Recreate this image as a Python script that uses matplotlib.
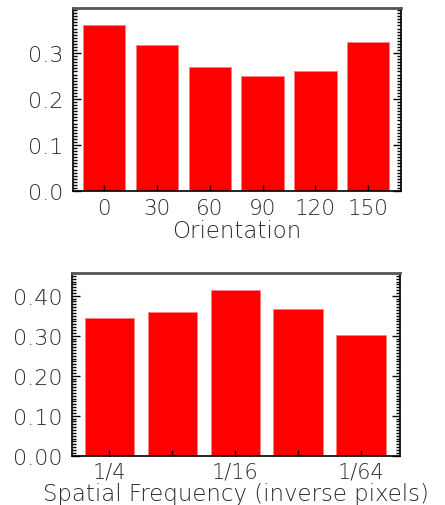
import matplotlib
matplotlib.use("Agg")
import matplotlib.pyplot as plt
from matplotlib.ticker import MultipleLocator, AutoMinorLocator, FormatStrFormatter

orientations = ["0", "30", "60", "90", "120", "150"]
orient_values = [0.362, 0.318, 0.270, 0.251, 0.262, 0.324]

freq_ticklabels = ["1/4", "", "1/16", "", "1/64"]
freq_values = [0.344, 0.359, 0.415, 0.368, 0.301]

plt.rcParams['font.family'] = ['DejaVu Sans']
fig = plt.figure(figsize=(4.45, 5.06), dpi=100)
W, H = 445, 506
TXT = '#2a2a2a'

def style(ax, nminor, fmt, xsize=15, xpad=4.5):
    for s in ['left', 'bottom', 'right']:
        ax.spines[s].set_color('black')
        ax.spines[s].set_linewidth(1.2)
    ax.spines['top'].set_color('#555555')
    ax.spines['top'].set_linewidth(2)
    ax.yaxis.set_minor_locator(AutoMinorLocator(nminor))
    ax.tick_params(axis='y', which='major', direction='in', length=6, width=1,
                   left=True, right=True, labelsize=16, pad=7, labelcolor=TXT)
    ax.tick_params(axis='y', which='minor', direction='in', length=3, width=1,
                   left=True, right=True)
    ax.tick_params(axis='x', which='major', direction='in', length=4, width=1,
                   top=False, labelsize=xsize, pad=xpad, labelcolor=TXT)
    ax.yaxis.set_major_formatter(FormatStrFormatter(fmt))
    for t in ax.get_yticklabels() + ax.get_xticklabels():
        t.set_fontweight('light')

ax1 = fig.add_axes([73 / W, (H - 192) / H, 328 / W, 183 / H])
x1 = range(len(orient_values))
ax1.bar(x1, orient_values, width=0.8, color='#ff0000', edgecolor='#ff8080', linewidth=0.6, zorder=1)
ax1.set_xlim(-0.59, 5.62)
ax1.set_ylim(0, 0.398)
ax1.yaxis.set_major_locator(MultipleLocator(0.1))
ax1.set_xticks(list(x1))
ax1.set_xticklabels(orientations)
style(ax1, 15, '%.1f', xsize=15.5, xpad=5)
ax1.set_xlabel("Orientation", fontsize=16.5, color=TXT, fontweight='light')
ax1.xaxis.label.set_va('baseline')
ax1.xaxis.set_label_coords(0.5, -(238.5 - 192) / 183)

ax2 = fig.add_axes([72 / W, (H - 456.7) / H, 328 / W, 182.7 / H])
x2 = range(len(freq_values))
ax2.bar(x2, freq_values, width=0.78, color='#ff0000', edgecolor='#ff8080', linewidth=0.6, zorder=1)
ax2.set_xlim(-0.59, 4.62)
ax2.set_ylim(0, 0.457)
ax2.yaxis.set_major_locator(MultipleLocator(0.1))
ax2.set_xticks(list(x2))
ax2.set_xticklabels(freq_ticklabels)
style(ax2, 14, '%.2f', xsize=15, xpad=4)
ax2.set_xlabel("Spatial Frequency (inverse pixels)", fontsize=16.5, color=TXT, fontweight='light')
ax2.xaxis.label.set_va('baseline')
ax2.xaxis.set_label_coords(0.5, -(501 - 456.7) / 182.7)

fig.savefig("out.png", dpi=100)
